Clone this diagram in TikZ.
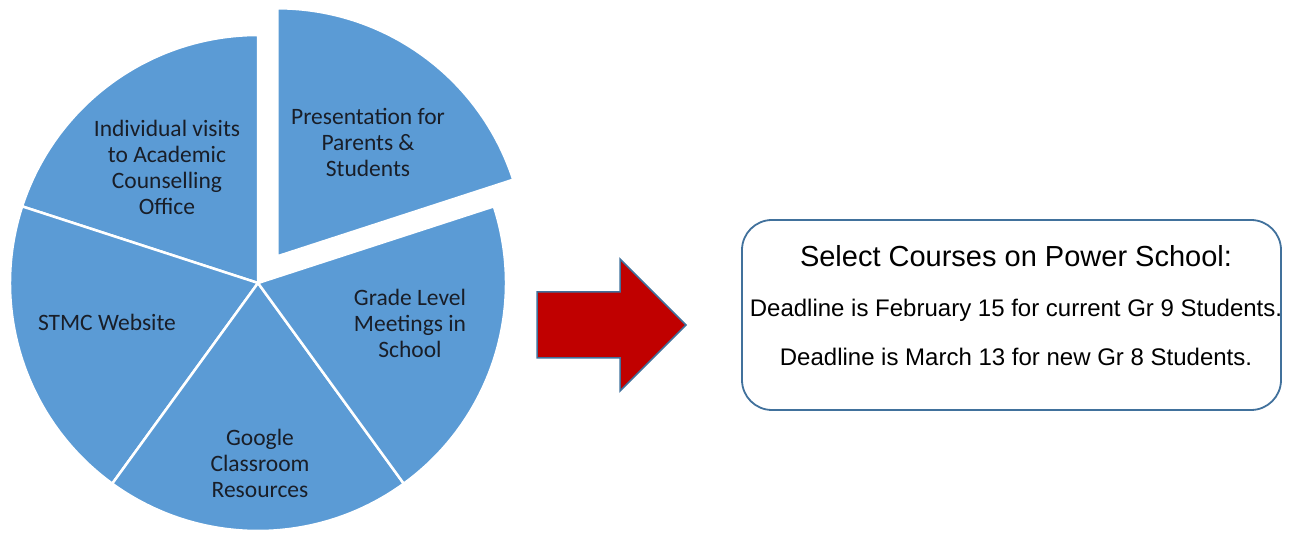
\documentclass[tikz,border=0pt]{standalone}
\usepackage{fontspec}
\setmainfont{Liberation Sans}
\newfontfamily\piefont{Carlito}
\usepackage{tikz}
\definecolor{pieblue}{RGB}{91,155,213}
\definecolor{arrowred}{RGB}{192,0,0}
\definecolor{edgeblue}{RGB}{65,113,156}
\definecolor{pietext}{RGB}{25,30,40}

\begin{document}
\begin{tikzpicture}[x=1pt, y=1pt,
        slice/.style={fill=pieblue, draw=white, line width=2.5pt, line join=round},
        slicetext/.style={font=\piefont\fontsize{23.5}{26}\selectfont, text=pietext, align=center},
        boxtext/.style={font=\fontsize{24}{28}\selectfont, anchor=base}]
                \useasboundingbox (0, 0) rectangle (1293, 533);
                % pie, four slices in place and one pulled out
                \coordinate (c) at (258, 250);
                \coordinate (c2) at (277.4, 276.7);
                \foreach \a in {90, 162, 234, 306}
                        \draw[slice] (c) -- ++(\a:248) arc[start angle=\a, end angle=\a+72, radius=248] -- cycle;
                \draw[slice] (c2) -- ++(18:248) arc[start angle=18, end angle=90, radius=248] -- cycle;
                \node[slicetext] (present) at (368, 391){Presentation for\\Parents \&\\Students};
                \node[slicetext] (visits) at (167, 366){Individual visits\\to Academic\\Counselling\\Office};
                \node[slicetext] (website) at (107, 211){STMC Website};
                \node[slicetext] (google) at (260, 70){Google\\Classroom\\Resources};
                \node[slicetext] (grade) at (410, 210){Grade Level\\Meetings in\\School};
                % arrow
                \draw[fill=arrowred, draw=edgeblue, line width=1.5pt, line join=miter]
                        (537, 241) -- (620, 241) -- (620, 274) -- (686, 208) -- (620, 142) -- (620, 175) -- (537, 175) -- cycle;
                % deadlines
                \node[draw=edgeblue, line width=1.8pt, fill=white, rounded corners=30pt,
                        minimum width=539, minimum height=190] (deadline) at (1011.5, 218){};
                \node[boxtext, font=\fontsize{29}{34}\selectfont] (select) at (1016, 266){Select Courses on Power School:};
                \node[boxtext] (gr9) at (1016, 216){Deadline is February 15 for current Gr 9 Students.};
                \node[boxtext] (gr8) at (1016, 167){Deadline is March 13 for new Gr 8 Students.};
        \end{tikzpicture}
\end{document}
